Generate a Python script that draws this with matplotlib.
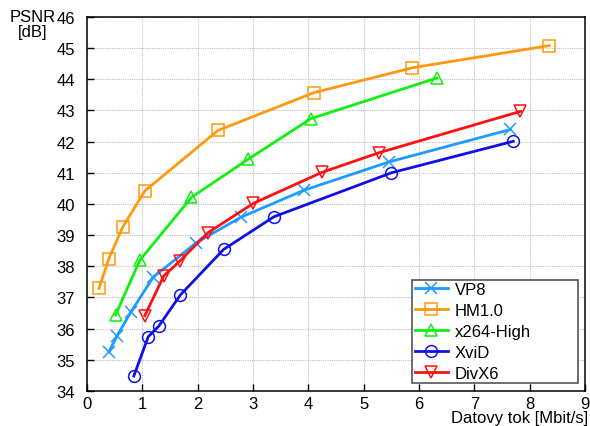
import matplotlib
matplotlib.use("Agg")
import matplotlib.pyplot as plt

plt.rcParams['font.family'] = ['Liberation Sans', 'DejaVu Sans']

# rate [Mbit/s] and PSNR [dB] per codec
vp8_x = [0.40, 0.55, 0.80, 1.20, 1.98, 2.78, 3.92, 5.46, 7.65]
vp8_y = [35.25, 35.78, 36.54, 37.65, 38.76, 39.57, 40.44, 41.35, 42.39]

hm_x = [0.22, 0.40, 0.65, 1.05, 2.37, 4.10, 5.88, 8.35]
hm_y = [37.29, 38.25, 39.26, 40.42, 42.36, 43.57, 44.37, 45.08]

x264_x = [0.52, 0.96, 1.89, 2.91, 4.05, 6.32]
x264_y = [36.44, 38.20, 40.21, 41.43, 42.74, 44.04]

xvid_x = [0.85, 1.11, 1.30, 1.69, 2.47, 3.38, 5.50, 7.70]
xvid_y = [34.48, 35.74, 36.08, 37.08, 38.54, 39.59, 41.00, 42.01]

divx_x = [1.05, 1.39, 1.68, 2.19, 3.01, 4.24, 5.27, 7.83]
divx_y = [36.42, 37.69, 38.17, 39.08, 40.02, 41.01, 41.64, 42.97]

fig = plt.figure(figsize=(5.90, 4.27), dpi=100)
ax = fig.add_axes([0.147, 0.082, 0.845, 0.876])

style = dict(lw=2.0, ms=8.5, mfc='none', mew=1.1)
ax.plot(vp8_x, vp8_y, '-x', color='#1E9BFF', label='VP8', **style)
ax.plot(hm_x, hm_y, '-s', color='#FF9910', label='HM1.0', **style)
ax.plot(x264_x, x264_y, '-^', color='#11EE11', label='x264-High', **style)
ax.plot(xvid_x, xvid_y, '-o', color='#1010E6', label='XviD', **style)
ax.plot(divx_x, divx_y, '-v', color='#FF1010', label='DivX6', **style)

ax.set_xlim(0, 9)
ax.set_ylim(34, 46)
ax.set_xticks(range(0, 10))
ax.set_yticks(range(34, 47))
ax.grid(True, color='#c0c0c0', linestyle=(0, (1, 1)), linewidth=0.8)
ax.tick_params(direction='in', labelsize=12, length=5, width=1)
ax.tick_params(axis='y', pad=8.5)
for s in ax.spines.values():
    s.set_linewidth(1.1)

fig.text(0.056, 0.976, 'PSNR\n[dB]', ha='center', va='top', fontsize=12,
         linespacing=1.0)
fig.text(0.997, 0.009, 'Datovy tok [Mbit/s]', ha='right', va='baseline',
         fontsize=12)

leg = ax.legend(loc='lower left', bbox_to_anchor=(0.653, 0.021, 0.333, 0.2),
                mode='expand', fontsize=12,
                fancybox=False, framealpha=1, edgecolor='#555555',
                handlelength=2.0, borderpad=0.15, labelspacing=0.35,
                handletextpad=0.4, borderaxespad=0)
leg.get_frame().set_linewidth(1.2)

fig.savefig('out.png', dpi=100)
